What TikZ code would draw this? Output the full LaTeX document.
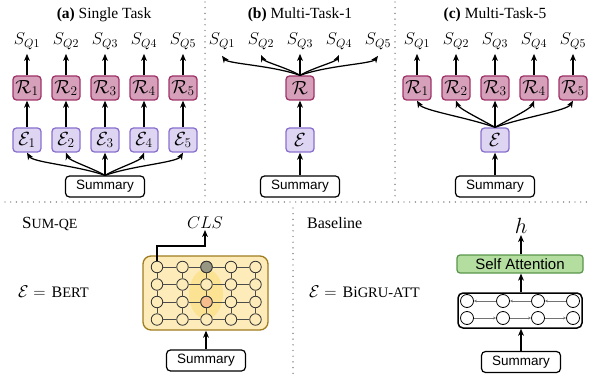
\RequirePackage{fix-cm}
\documentclass[tikz,border=0pt]{standalone}
\usepackage[no-math]{fontspec}
\setmainfont{Liberation Serif}
\setsansfont{Liberation Sans}
\usetikzlibrary{arrows.meta,calc}
\definecolor{efill}{RGB}{221,213,242}
\definecolor{edraw}{RGB}{138,112,206}
\definecolor{rfill}{RGB}{214,160,186}
\definecolor{rdraw}{RGB}{158,52,104}
\definecolor{bfill}{RGB}{253,236,186}
\definecolor{bdraw}{RGB}{160,124,32}
\definecolor{gfill}{RGB}{180,221,160}
\definecolor{gdraw}{RGB}{88,150,74}
\definecolor{dotc}{RGB}{95,95,95}
\definecolor{facey}{RGB}{250,215,90}
\definecolor{tuft}{RGB}{150,150,130}
\definecolor{nose}{RGB}{245,190,140}
\begin{document}
\begin{tikzpicture}[x=1pt,y=-1pt,
  box/.style={rounded corners=3.5pt, line width=1.3pt, minimum width=28pt, minimum height=24pt, inner sep=0pt, font=\fontsize{19}{21}\selectfont},
  enc/.style={box, draw=edraw, fill=efill},
  reg/.style={box, draw=rdraw, fill=rfill},
  summ/.style={draw, fill=white, rounded corners=4pt, line width=1.2pt, minimum width=79pt, minimum height=21pt, inner sep=0pt, font=\sffamily\fontsize{13.5}{15}\selectfont},
  slab/.style={anchor=base, inner sep=0pt, outer sep=4pt, font=\fontsize{17}{19}\selectfont},
  ttl/.style={anchor=base, inner sep=0pt, font=\fontsize{15.5}{18}\selectfont},
  arr/.style={-{Stealth[length=7pt,width=5.8pt,inset=2pt]}, line width=1.25pt},
  dotl/.style={draw=dotc, line width=1.4pt, dash pattern=on 0pt off 5.7pt, line cap=round},
  gc/.style={circle, draw=black!80, fill=bfill, line width=0.8pt, minimum size=11.5pt, inner sep=0pt},
  gl/.style={draw=black!70, line width=0.7pt},
  rnn/.style={circle, draw=black, fill=white, line width=0.8pt, minimum size=13pt, inner sep=0pt},
  rl/.style={draw=black!55, line width=0.7pt, -{Stealth[length=3pt,width=2.6pt]}},
  txt/.style={anchor=base west, inner sep=0pt, font=\fontsize{16}{18}\selectfont}
]
\useasboundingbox (0,0) rectangle (593,379);

% dotted separators
\draw[dotl] (205,2) -- (205,200);
\draw[dotl] (395,2) -- (395,200);
\draw[dotl] (5,202) -- (590,202);
\draw[dotl] (293,208) -- (293,377);

% titles
\node[ttl] (ta) at (104,19) {\textbf{(a)} Single Task};
\node[ttl] (tb) at (300,19) {\textbf{(b)} Multi-Task-1};
\node[ttl] (tc) at (495,19) {\textbf{(c)} Multi-Task-5};

% ---------- panel (a)
\node[summ] (suma) at (105,186.5) {Summary};
\foreach \i in {1,...,5} {
  \pgfmathsetmacro\xx{27+39*(\i-1)}
  \node[slab] (sa\i) at (\xx,45) {$S_{Q\i}$};
  \node[reg] (ra\i) at (\xx,88) {$\mathcal{R}_{\i}$};
  \node[enc] (ea\i) at (\xx,140) {$\mathcal{E}_{\i}$};
  \draw[arr] (ra\i.north) -- (ra\i.north |- sa\i.south);
  \draw[arr] (ea\i.north) -- (ra\i.south);
}
\draw[arr] (suma.north) .. controls +(-28,-10) and +(6,10) .. (ea1.south);
\draw[arr] (suma.north) .. controls +(-14,-8) and +(3,8) .. (ea2.south);
\draw[arr] (suma.north) -- (ea3.south);
\draw[arr] (suma.north) .. controls +(14,-8) and +(-3,8) .. (ea4.south);
\draw[arr] (suma.north) .. controls +(28,-10) and +(-6,10) .. (ea5.south);

% ---------- panel (b)
\node[summ] (sumb) at (300,186.5) {Summary};
\node[enc] (eb) at (300,140) {$\mathcal{E}$};
\node[reg] (rb) at (300,88) {$\mathcal{R}$};
\foreach \i in {1,...,5} {
  \pgfmathsetmacro\xx{222+39*(\i-1)}
  \node[slab] (sb\i) at (\xx,45) {$S_{Q\i}$};
}
\draw[arr] (sumb.north) -- (eb.south);
\draw[arr] (eb.north) -- (rb.south);
\draw[arr] (rb.north) .. controls +(-28,-10) and +(6,8) .. ($(sb1.south)+(0,2)$);
\draw[arr] (rb.north) .. controls +(-14,-8) and +(3,7) .. ($(sb2.south)+(0,1)$);
\draw[arr] (rb.north) -- (rb.north |- sb3.south);
\draw[arr] (rb.north) .. controls +(14,-8) and +(-3,7) .. ($(sb4.south)+(0,1)$);
\draw[arr] (rb.north) .. controls +(28,-10) and +(-6,8) .. ($(sb5.south)+(0,2)$);

% ---------- panel (c)
\node[summ] (sumc) at (495,186.5) {Summary};
\node[enc] (ec) at (495,140) {$\mathcal{E}$};
\foreach \i in {1,...,5} {
  \pgfmathsetmacro\xx{417+39*(\i-1)}
  \node[slab] (sc\i) at (\xx,45) {$S_{Q\i}$};
  \node[reg] (rc\i) at (\xx,88) {$\mathcal{R}_{\i}$};
  \draw[arr] (rc\i.north) -- (rc\i.north |- sc\i.south);
}
\draw[arr] (sumc.north) -- (ec.south);
\draw[arr] (ec.north) .. controls +(-28,-10) and +(6,10) .. (rc1.south);
\draw[arr] (ec.north) .. controls +(-14,-8) and +(3,8) .. (rc2.south);
\draw[arr] (ec.north) -- (rc3.south);
\draw[arr] (ec.north) .. controls +(14,-8) and +(-3,8) .. (rc4.south);
\draw[arr] (ec.north) .. controls +(28,-10) and +(-6,10) .. (rc5.south);

% ---------- bottom left: SUM-QE
\node[txt] (sumqe) at (22,228) {{\fontsize{17}{19}\selectfont S}{\fontsize{14}{16}\selectfont UM-QE}};
\node[txt] (ebert) at (18,297) {{\fontsize{17}{19}\selectfont$\mathcal{E}=$}\hspace{6pt}B{\fontsize{14.5}{16}\selectfont ERT}};
\node[draw=bdraw, fill=bfill, line width=1.3pt, rounded corners=8pt, minimum width=125pt, minimum height=74pt, inner sep=0pt] (bert) at (205.5,293) {};
\fill[facey, opacity=0.4] (206,294) ellipse [x radius=17, y radius=25];
\foreach \c [count=\ci] in {157,182.5,206.5,231,255.5} {
  \foreach \r [count=\ri] in {267,284.5,302,319.5} {
    \node[gc] (g\ci\ri) at (\c,\r) {};
  }
}
\node[gc, fill=tuft] at (g31) {};
\node[gc, fill=nose] at (g33) {};
\foreach \r in {1,...,4} {
  \foreach \a/\b in {1/2,2/3,3/4,4/5} { \draw[gl] (g\a\r) -- (g\b\r); }
}
\foreach \c in {1,...,5} {
  \foreach \a/\b in {1/2,2/3,3/4} { \draw[gl] (g\c\a) -- (g\c\b); }
}
\node[slab, outer sep=2pt, font=\fontsize{17}{19}\selectfont] (cls) at (205,228) {$CLS$};
\coordinate (clsbend) at (205,246);
\draw[arr, line width=1.1pt] (g11.north) |- (clsbend) -- (cls.south);
\node[summ] (bertsum) at (206,360.5) {Summary};
\draw[arr] (bertsum.north) -- (bertsum.north |- bert.south);

% ---------- bottom right: Baseline
\node[txt] (basel) at (307,228) {Baseline};
\node[txt] (ebigru) at (309,297) {{\fontsize{17}{19}\selectfont$\mathcal{E}=$}\hspace{6pt}Bi{\fontsize{14.5}{16}\selectfont GRU-ATT}};
\node[draw, line width=1.5pt, rounded corners=5pt, minimum width=124pt, minimum height=35pt, inner sep=0pt] (bigru) at (520,310.5) {};
\foreach \x [count=\k] in {467,503,538,573} {
  \node[rnn] (ut\k) at (\x,301) {};
  \node[rnn] (ub\k) at (\x,318) {};
}
\foreach \a/\b in {1/2,2/3,3/4} {
  \draw[rl] (ut\b) -- (ut\a);
  \draw[rl] (ub\a) -- (ub\b);
}
\node[draw=gdraw, fill=gfill, line width=1.2pt, rounded corners=3pt, minimum width=126pt, minimum height=18pt, inner sep=0pt, font=\sffamily\fontsize{15}{17}\selectfont] (sa) at (520,264) {Self Attention};
\node[slab, outer sep=2pt, font=\fontsize{22}{24}\selectfont] (h) at (521,233) {$h$};
\node[summ] (bsum) at (521,362) {Summary};
\draw[arr] (bsum.north) -- (bsum.north |- bigru.south);
\draw[arr] (bsum.north |- bigru.north) -- (bsum.north |- sa.south);
\draw[arr] (bsum.north |- sa.north) -- (bsum.north |- h.south);
\end{tikzpicture}
\end{document}
